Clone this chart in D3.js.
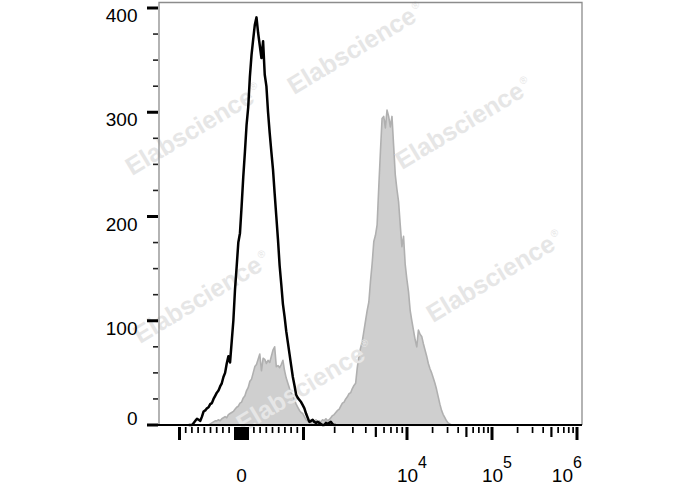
<!DOCTYPE html>
<html><head><meta charset="utf-8">
<script src="https://cdn.jsdelivr.net/npm/d3@7"></script>
<style>body{margin:0;background:#fff}svg{display:block}text{font-family:"Liberation Sans",Arial,sans-serif}</style>
</head><body><svg id="c" width="688" height="490"></svg>
<script>
// ---- data ----
const binCount = 256;              // display channels across the x axis
const blackStart = 18;             // first channel of the control histogram
const blackCounts = [0,0,0,2,4,6,5,4,8,13,14,16,17,20,21,25,28,31,33,37,40,46,50,59,66,60,80,100,130,152,175,184,210,238,262,288,305,334,355,370,384,391,376,364,352,368,336,325,300,280,262,245,222,200,178,153,135,116,104,90,79,68,57,46,38,29,26,24,22,19,16,11,7,3,4,5,3,2,3,2,1,0,0,2,1,2,3,1,0,0];
const grayStart = 30;              // first channel of the stained histogram
const grayCounts = [0,1,2,3,4,4,5,4,6,7,8,7,10,11,12,13,15,17,18,21,22,26,28,33,36,42,44,50,56,58,63,68,52,64,63,59,62,60,66,72,75,56,57,55,58,62,52,45,40,35,31,28,24,20,17,14,12,11,8,5,4,3,2,4,3,5,3,4,3,5,4,6,4,5,7,9,10,12,14,15,18,21,22,25,27,30,31,35,38,40,55,66,74,80,90,100,110,118,138,155,176,182,192,228,262,294,296,285,302,296,286,296,268,240,226,214,192,171,181,154,140,128,110,100,91,82,75,91,87,85,78,72,66,59,54,50,45,40,34,27,20,14,10,7,4,2,1,0];
const yMajor = [0,100,200,300,400];
const xLabels = [{v:0,t:"0"},{v:1e4,t:"10",e:"4"},{v:1e5,t:"10",e:"5"},{v:1e6,t:"10",e:"6"}];
const xMajorUnlabeled = [-1000,1000];
const watermark = "Elabscience";
const wmAnchors = [[294,95],[132,176],[402,170],[140,344],[433,323],[243,433]];

// ---- geometry ----
const L=159, R=582, T=2.5, B=425;
const svg = d3.select("#c");
const y = d3.scaleLinear().domain([0,400]).range([B,8]);
const xBin = d3.scaleLinear().domain([0,binCount]).range([L,R]);
// biexponential-like value axis composed of d3 scales
const xLin = d3.scaleLinear().domain([-1000,1000]).range([179.5,303.5]);
const xLogA = d3.scaleLog().domain([1000,1e4]).range([303.5,407]);
const xLogB = d3.scaleLog().domain([1e4,1e6]).range([407,577]);
const xv = v => v<=1000 ? xLin(v) : (v<=1e4 ? xLogA(v) : xLogB(v));

// ---- histograms ----
const gray = grayCounts.map((c,i)=>[grayStart+i,c]);
const black = blackCounts.map((c,i)=>[blackStart+i,c]);
svg.append("path").datum(gray)
  .attr("d", d3.area().x(d=>xBin(d[0])).y0(y(0)).y1(d=>y(d[1])))
  .attr("fill","#cfcfcf").attr("stroke","#b0b0b0").attr("stroke-width",1.6).attr("stroke-linejoin","round");

// watermarks
const wm = svg.append("g").attr("fill","#e6e6e6").attr("font-weight","bold").attr("font-size",25);
wmAnchors.forEach(a=>{
  const t = wm.append("text").attr("transform",`translate(${a[0]},${a[1]}) rotate(-31)`);
  t.append("tspan").text(watermark);
  t.append("tspan").attr("font-size",10).attr("font-weight","normal").attr("dy",-11).attr("dx",2).text("®");
});

svg.append("path").datum(black)
  .attr("d", d3.line().x(d=>xBin(d[0])).y(d=>y(d[1])))
  .attr("fill","none").attr("stroke","#000").attr("stroke-width",2.5).attr("stroke-linejoin","round");

// ---- frame ----
svg.append("path").attr("d",`M${L},${B}V${T}H${R}V${B}`).attr("fill","none").attr("stroke","#8c8c8c").attr("stroke-width",1.3);
svg.append("line").attr("x1",147).attr("x2",R).attr("y1",B).attr("y2",B).attr("stroke","#000").attr("stroke-width",2.2);

// y ticks
const yMinor = d3.range(25,400,25).filter(v=>v%100!==0);
svg.selectAll(".ymin").data(yMinor).join("line").attr("x1",153).attr("x2",158).attr("y1",d=>y(d)).attr("y2",d=>y(d)).attr("stroke","#222").attr("stroke-width",1.6);
svg.selectAll(".ymaj").data(yMajor).join("line").attr("x1",147).attr("x2",158).attr("y1",d=>y(d)).attr("y2",d=>y(d)).attr("stroke","#000").attr("stroke-width",3);
svg.selectAll(".ylab").data(yMajor).join("text").attr("x",137.5).attr("y",d=>d===0?B:y(d)+14)
  .attr("text-anchor","end").attr("font-size",19).text(d=>d);

// x ticks
const ticks = [];
d3.range(-100,101,10).forEach(v=>ticks.push({v,h:13,w:2.6}));
d3.range(200,1000,100).forEach(v=>{ticks.push({v,h:6,w:1.7});ticks.push({v:-v,h:6,w:1.7});});
[1e3,1e4,1e5].forEach(p=>d3.range(2,10).forEach(k=>ticks.push({v:k*p,h:k===5?10:6,w:k===5?2.2:1.7})));
xMajorUnlabeled.concat([1e4,1e5,1e6]).forEach(v=>ticks.push({v,h:13,w:3}));
svg.selectAll(".xt").data(ticks).join("line").attr("x1",d=>xv(d.v)).attr("x2",d=>xv(d.v))
  .attr("y1",427).attr("y2",d=>427+d.h).attr("stroke","#000").attr("stroke-width",d=>d.w);

xLabels.forEach(l=>{
  const t = svg.append("text").attr("font-size",19).attr("y",482).attr("text-anchor","middle");
  t.append("tspan").text(l.t);
  if(l.e) t.append("tspan").attr("font-size",16).attr("dy",-14).text(l.e);
  let cx = xv(l.v) + (l.e?5:0);
  t.attr("x",cx);
  const bb = t.node().getBBox();
  if(bb.x+bb.width>R) t.attr("x",cx-(bb.x+bb.width-R));
});
</script></body></html>
